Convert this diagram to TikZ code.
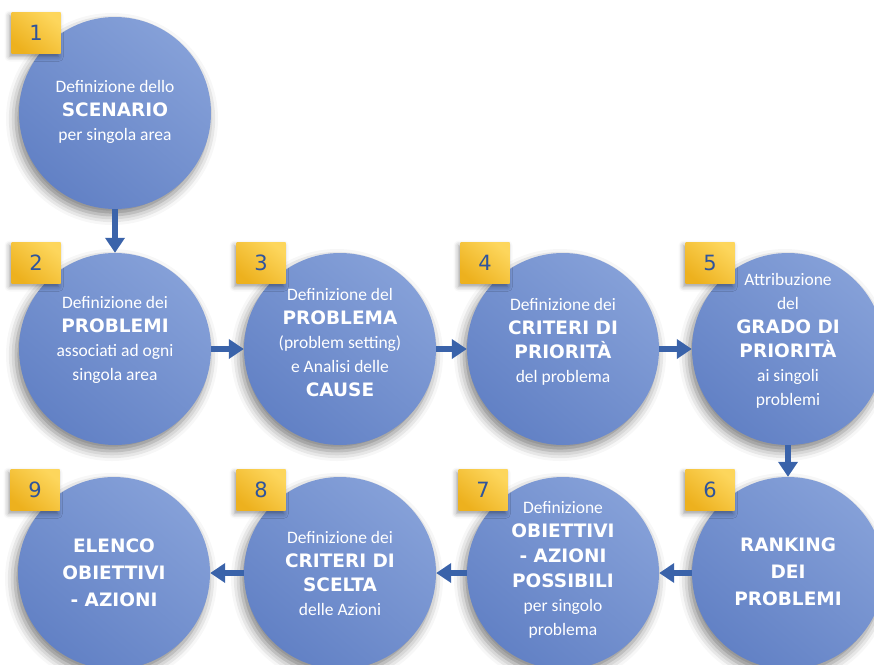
\documentclass[tikz,border=0pt]{standalone}
\usepackage{fontspec}
\setmainfont{Carlito}
\newfontfamily\headfont{DejaVu Sans}
\usetikzlibrary{arrows.meta,shadows.blur}

\definecolor{discLight}{HTML}{85A0D8}
\definecolor{discDark}{HTML}{6281C5}
\definecolor{arrowblue}{HTML}{3A63AA}
\definecolor{tagLight}{HTML}{FDD65C}
\definecolor{tagDark}{HTML}{EDB11E}
\definecolor{tagnum}{HTML}{2F549C}

% keyword in the headline face
\newcommand\kw[1]{{\headfont\bfseries\fontsize{18.5}{24}\selectfont #1}}

\tikzset{
  disc/.style={circle, minimum size=192pt, inner sep=0pt,
    top color=discLight, bottom color=discDark, shading angle=-40,
    blur shadow={shadow xshift=-3pt, shadow yshift=-6pt,
      shadow blur radius=10pt, shadow opacity=50}},
  tagbox/.style={rectangle, minimum width=49pt, minimum height=41pt,
    inner sep=0pt, top color=tagLight, bottom color=tagDark, shading angle=-40,
    blur shadow={shadow xshift=-2pt, shadow yshift=-3pt,
      shadow blur radius=5pt, shadow opacity=40},
    text=tagnum, font=\headfont\fontsize{21}{21}\selectfont},
  caption/.style={text=white, align=center, inner sep=0pt,
    font=\fontsize{17.5}{24}\selectfont},
  arr/.style={draw=arrowblue, line width=6pt,
    -{Triangle[width=19pt,length=15pt]}},
}

\begin{document}
\begin{tikzpicture}[x=1pt,y=-1pt]
  \useasboundingbox (0,0) rectangle (874,664);
  \clip (0,0) rectangle (874,664);

  % the nine discs
  \node[disc] (c1) at (115,113) {};
  \node[disc] (c2) at (115,349) {};
  \node[disc] (c3) at (340,349) {};
  \node[disc] (c4) at (563,349) {};
  \node[disc] (c5) at (788,349) {};
  \node[disc] (c6) at (788,573) {};
  \node[disc] (c7) at (563,573) {};
  \node[disc] (c8) at (340,573) {};
  \node[disc] (c9) at (114,573) {};

  % step numbers
  \node[tagbox] (n1) at (36,33)  {1};
  \node[tagbox] (n2) at (36,263) {2};
  \node[tagbox] (n3) at (261,263) {3};
  \node[tagbox] (n4) at (485,263) {4};
  \node[tagbox] (n5) at (710,263) {5};
  \node[tagbox] (n6) at (710,490) {6};
  \node[tagbox] (n7) at (483,490) {7};
  \node[tagbox] (n8) at (261,490) {8};
  \node[tagbox] (n9) at (35,490) {9};

  % captions
  \node[caption] (t1) at (115,112) {Definizione dello\\ \kw{SCENARIO}\\ per singola area};
  \node[caption] (t2) at (115,340) {Definizione dei\\ \kw{PROBLEMI}\\ associati ad ogni\\ singola area};
  \node[caption] (t3) at (340,343) {Definizione del\\ \kw{PROBLEMA}\\ (problem setting)\\ e Analisi delle\\ \kw{CAUSE}};
  \node[caption] (t4) at (563,342) {Definizione dei\\ \kw{CRITERI DI}\\ \kw{PRIORITÀ}\\ del problema};
  \node[caption] (t5) at (788,341) {Attribuzione\\ del\\ \kw{GRADO DI}\\ \kw{PRIORITÀ}\\ ai singoli\\ problemi};
  \node[caption] (t6) at (788,572) {\kw{RANKING}\\[3pt] \kw{DEI}\\[3pt] \kw{PROBLEMI}};
  \node[caption] (t7) at (563,570) {Definizione\\ \kw{OBIETTIVI}\\[1pt] \kw{- AZIONI}\\[1pt] \kw{POSSIBILI}\\ per singolo\\ problema};
  \node[caption] (t8) at (340,573) {Definizione dei\\ \kw{CRITERI DI}\\ \kw{SCELTA}\\ delle Azioni};
  \node[caption] (t9) at (114,573) {\kw{ELENCO}\\[3pt] \kw{OBIETTIVI}\\[3pt] \kw{- AZIONI}};

  % flow between the steps
  \draw[arr] (c1.south) -- (c2.north);
  \draw[arr] (c2.east) -- (c3.west);
  \draw[arr] (c3.east) -- (c4.west);
  \draw[arr] (c4.east) -- (c5.west);
  \draw[arr] (c5.south) -- (c6.north);
  \draw[arr] (c6.west) -- (c7.east);
  \draw[arr] (c7.west) -- (c8.east);
  \draw[arr] (c8.west) -- (c9.east);
\end{tikzpicture}
\end{document}
